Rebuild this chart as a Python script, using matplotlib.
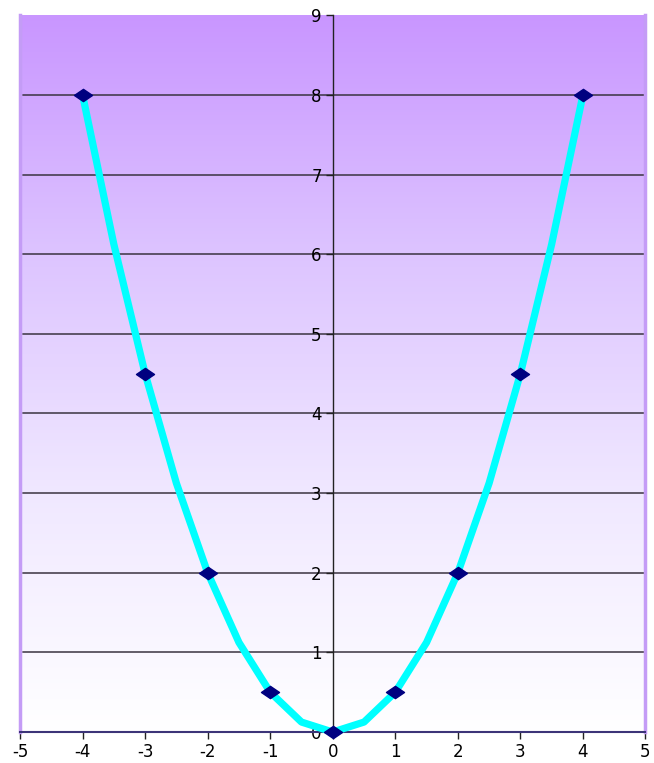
import numpy as np
import matplotlib.pyplot as plt
from matplotlib.path import Path
from matplotlib.colors import LinearSegmentedColormap

plt.rcParams['axes.unicode_minus'] = False

# y = x^2 / 2, curve sampled every half unit, markers on whole numbers
curve_x = [-4, -3.5, -3, -2.5, -2, -1.5, -1, -0.5, 0, 0.5, 1, 1.5, 2, 2.5, 3, 3.5, 4]
curve_y = [8, 6.125, 4.5, 3.125, 2, 1.125, 0.5, 0.125, 0, 0.125, 0.5, 1.125, 2, 3.125, 4.5, 6.125, 8]
point_x = [-4, -3, -2, -1, 0, 1, 2, 3, 4]
point_y = [8, 4.5, 2, 0.5, 0, 0.5, 2, 4.5, 8]
x_ticks = [-5, -4, -3, -2, -1, 0, 1, 2, 3, 4, 5]
y_ticks = [0, 1, 2, 3, 4, 5, 6, 7, 8, 9]

fig = plt.figure(figsize=(6.54, 7.63), dpi=100)
ax = fig.add_axes([0.0306, 0.0406, 0.9564, 0.9394])
ax.set_xlim(-5, 5)
ax.set_ylim(0, 9)

# purple-to-white background
cmap = LinearSegmentedColormap.from_list('bg', ['#ffffff', '#f0e8ff', '#ddc4ff', '#c996ff'])
grad = np.linspace(0, 1, 256).reshape(-1, 1)
ax.imshow(grad, cmap=cmap, origin='lower', aspect='auto',
          extent=[-5, 5, 0, 9], zorder=0)

for yv in y_ticks[1:-1]:
    ax.axhline(yv, xmin=0.004, xmax=1, color='#3a3340', lw=1.1, zorder=1)

# side borders of the plot area
ax.axvline(-5, color='#c49cf6', lw=2.5, zorder=2, clip_on=False)
ax.axvline(5, color='#c49cf6', lw=2.5, zorder=2, clip_on=False)

ax.plot(curve_x, curve_y, color='#00ffff', lw=5.2, solid_joinstyle='round',
        zorder=3, clip_on=False)

diamond = Path([(-1, 0), (0, 0.68), (1, 0), (0, -0.68), (-1, 0)],
               [Path.MOVETO, Path.LINETO, Path.LINETO, Path.LINETO, Path.CLOSEPOLY])
ax.plot(point_x, point_y, ls='none', marker=diamond, markersize=13,
        color='#000080', zorder=4, clip_on=False)

ax.spines['left'].set_position(('data', 0))
ax.spines['left'].set_color('#222222')
ax.spines['left'].set_linewidth(1)
ax.spines['right'].set_visible(False)
ax.spines['top'].set_visible(False)
ax.spines['bottom'].set_color('#3c3478')
ax.spines['bottom'].set_linewidth(1.5)

ax.set_xticks(x_ticks)
ax.set_yticks(y_ticks)
ax.tick_params(axis='both', direction='out', length=5, width=1, color='#222222',
               labelsize=12)
ax.tick_params(axis='x', pad=3)
ax.tick_params(axis='y', pad=3)

fig.savefig('out.png', dpi=100)
